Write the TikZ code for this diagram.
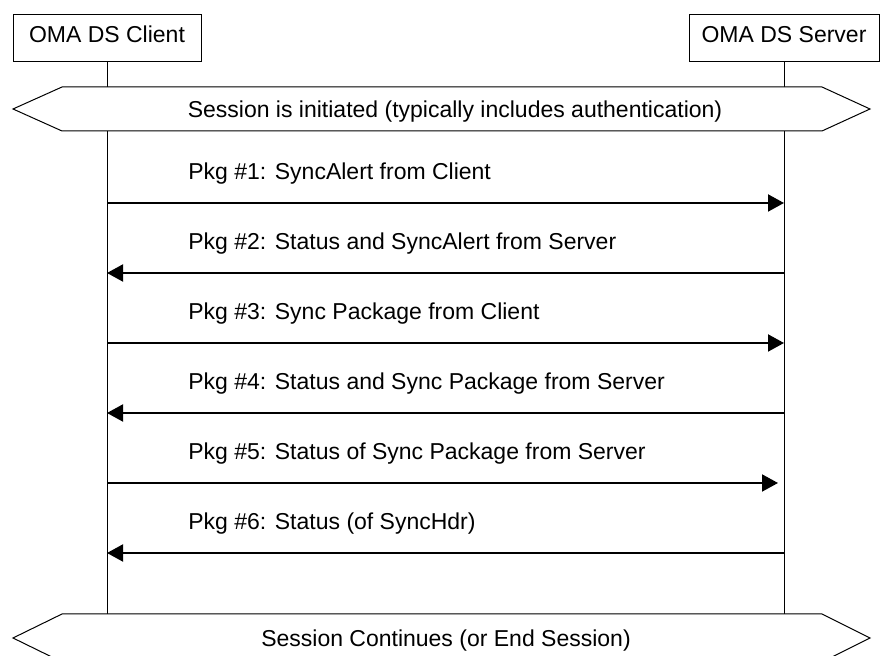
\documentclass[tikz,border=0pt]{standalone}
\usepackage{fontspec}
\setmainfont{Liberation Sans}
\usetikzlibrary{arrows.meta}
\tikzset{obj/.style={ draw, rectangle, line width=0.5pt, minimum width=94pt, minimum height=23.5pt, inner sep=0pt, text height=8.4pt, text depth=4.5pt}}
\tikzset{msg/.style={ line width=1pt, -{Triangle[length=8pt,width=8.5pt]}}}

\begin{document}
\begin{tikzpicture}[x=0.5pt, y=-0.5pt, font=\fontsize{11.5}{13.8}\selectfont]
\tikzstyle{lbl}=[anchor=base west, inner sep=0pt]
\tikzstyle{band}=[draw, fill=white, line width=0.5pt]
\useasboundingbox (0,0) rectangle (885,656);
\node[obj] (cl) at (107,38.5) {OMA DS Client};
\node[obj, minimum width=95pt] (sv) at (784,38.5) {OMA DS Server};
\coordinate (clend) at (107,614);
\coordinate (svend) at (784,614);
\draw[line width=0.5pt] (cl.south) -- (clend);
\draw[line width=0.5pt] (sv.south) -- (svend);
\draw[band] (13,109) -- (62,87) -- (822,87) -- (870,109) -- (822,131) -- (62,131) -- cycle;
\node[anchor=base, inner sep=0pt] (init) at (455,118) {Session is initiated (typically includes authentication)};
\foreach \y [count=\i] in {203,273,343,413,483,553}
 {\coordinate (c\i) at (107,\y); \coordinate (s\i) at (784,\y);}
\node[lbl] (m1) at (188,180) {Pkg \#1: SyncAlert from Client};
\node[lbl] (m2) at (188,250) {Pkg \#2: Status and SyncAlert from Server};
\node[lbl] (m3) at (188,320) {Pkg \#3: Sync Package from Client};
\node[lbl] (m4) at (188,390) {Pkg \#4: Status and Sync Package from Server};
\node[lbl] (m5) at (188,460) {Pkg \#5: Status of Sync Package from Server};
\node[lbl] (m6) at (188,530) {Pkg \#6: Status (of SyncHdr)};
\draw[msg] (c1) -- (s1);
\draw[msg] (s2) -- (c2);
\draw[msg] (c3) -- (s3);
\draw[msg] (s4) -- (c4);
\draw[msg] (c5) -- ([xshift=-3pt]s5);
\draw[msg] (s6) -- (c6);
\draw[band] (13,638) -- (62,614) -- (822,614) -- (870,638) -- (822,662) -- (62,662) -- cycle;
\node[anchor=base, inner sep=0pt] (cont) at (446,647) {Session Continues (or End Session)};
\end{tikzpicture}
\end{document}
